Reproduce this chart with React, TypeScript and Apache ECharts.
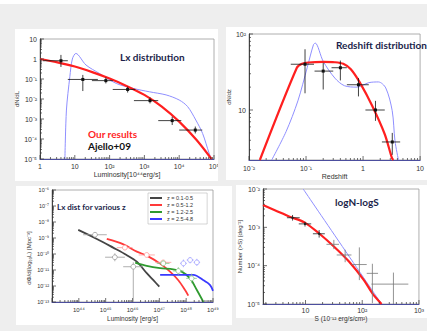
import React, { useEffect, useRef } from 'react';
import * as echarts from 'echarts';

// ---------- Panel 1: Lx distribution ----------
const lxPtX = [4, 17, 78, 330, 1450, 6300, 29000];
const lxPtY = [0.82, 0.095, 0.083, 0.03, 0.0083, 0.00083, 0.00028];
const lxErrX = [[1.2, 6.3], [6.3, 46], [31, 123], [123, 550], [500, 2500], [2500, 11500], [10000, 46000]];
const lxErrY = [[0.4, 1.6], [0.025, 0.16], [0.06, 0.12], [0.021, 0.042], [0.006, 0.012], [0.0005, 0.0013], [0.00019, 0.00042]];
const lxOurs = [[1, 1.0], [3.16, 0.68], [10, 0.42], [31.6, 0.22], [100, 0.105], [316, 0.044], [1000, 0.016], [3160, 0.0042], [10000, 0.00074], [31600, 0.000089], [85000, 0.00001]];
const lxAjello = [[5.2, 0.00001], [5.75, 0.0028], [7.2, 0.13], [8.5, 1.0], [10.7, 1.9], [21, 0.5], [51, 0.19], [155, 0.06], [470, 0.034], [1380, 0.023], [4200, 0.016], [10000, 0.0089], [17400, 0.0042], [30000, 0.00089], [47000, 0.00019], [72000, 0.00002], [85000, 0.00001]];

// ---------- Panel 2: Redshift distribution ----------
const zPtX = [0.096, 0.2, 0.4, 0.83, 1.65, 3.25];
const zPtY = [40, 32.5, 36, 21.5, 10, 3.8];
const zErrX = [[0.054, 0.138], [0.141, 0.3], [0.28, 0.52], [0.52, 1.26], [1.1, 2.4], [2.14, 4.47]];
const zErrY = [[16.6, 63], [18.6, 41.7], [24.5, 44.7], [15.1, 26.3], [7.2, 13.2], [2.57, 5.0]];
const zOurs = [[0.0155, 2.2], [0.069, 36], [0.085, 40.5], [0.11, 42.2], [0.2, 43], [0.32, 42.5], [0.45, 40.5], [0.61, 34.3], [0.88, 22.9], [1.45, 11.3], [2.4, 4.8], [3.2, 2.35], [3.4, 2.2]];
const zAjello = [[0.025, 2.2], [0.0447, 5.2], [0.072, 13.2], [0.105, 36.3], [0.135, 72.4], [0.145, 75.9], [0.2, 43.7], [0.32, 26.3], [0.47, 20.9], [0.78, 20], [1.26, 22.9], [1.86, 23.4], [2.5, 19.5], [3.24, 9.8], [3.63, 3.9], [4.17, 2.2]];

// ---------- Panel 3: Lx dist for various z ----------
const zBins = ['z = 0.1-0.5', 'z = 0.5-1.2', 'z = 1.2-2.5', 'z = 2.5-4.8'];
const lfBlack = [[9.5e43, 3.2e-9], [4.7e44, 8.7e-10], [1.9e45, 2.5e-10], [6.0e45, 8.7e-11], [1.45e46, 3.3e-11], [3.4e46, 6.3e-12], [6.0e46, 2.3e-12], [1.0e47, 9.1e-13]];
const lfRed = [[1.1e45, 8.7e-10], [4.6e45, 4.0e-10], [1.45e46, 1.4e-10], [3.4e46, 7.9e-11], [1.07e47, 2.5e-11], [2.5e47, 7.9e-12], [5.1e47, 2.3e-12], [9.1e47, 5.6e-13], [1.2e48, 2.5e-13]];
const lfGreen = [[1.26e46, 2.9e-11], [3.4e46, 1.8e-11], [1.07e47, 1.3e-11], [3.3e47, 1.1e-11], [6.8e47, 7.9e-12], [1.4e48, 3.0e-12], [2.5e48, 5.6e-13], [4.4e48, 1e-13]];
const lfBlue = [[1.07e47, 4.9e-12], [1.86e48, 4.9e-12], [4.4e48, 2.3e-12], [7.8e48, 1.15e-12], [1e49, 5e-13]];
const lfBlackPtX = [4e44, 2.2e45, 1.07e46];
const lfBlackPtY = [1.6e-9, 6.3e-11, 1.6e-11];
const lfBlackErrX = [[1.45e44, 1.1e45], [9.5e44, 5.2e45], [4.5e45, 2.5e46]];
const lfBlackErrY = [[1.1e-9, 2.3e-9], [3.5e-11, 1.1e-10], [1e-13, 3e-11]];
const lfRedPtX = [5.2e45, 3.4e46, 1.4e47];
const lfRedPtY = [2.5e-10, 8.7e-11, 3.0e-11];
const lfRedErrX = [[2.6e45, 1.0e46], [1.7e46, 6.8e46], [7e46, 2.8e47]];
const lfRedErrY = [[1.9e-10, 3.3e-10], [6.5e-11, 1.15e-10], [2.2e-11, 4.0e-11]];
const lfGreenPtX = [1.4e47, 5.1e47, 1.6e48];
const lfGreenPtY = [2.6e-11, 8.7e-12, 3.0e-12];
const lfGreenErrX = [[8e46, 2.4e47], [3.2e47, 8e47], [1.0e48, 2.5e48]];
const lfGreenErrY = [[1.8e-11, 3.8e-11], [5e-12, 1.5e-11], [1.5e-12, 6e-12]];
const lfBluePtX = [7.9e47, 1.4e48, 2.5e48];
const lfBluePtY = [2.6e-11, 4.2e-11, 3.0e-11];
const lfBlueErrX = [[6e47, 1.05e48], [1.05e48, 1.9e48], [1.9e48, 3.3e48]];
const lfBlueErrY = [[1.5e-11, 4.5e-11], [2.6e-11, 6.5e-11], [1.8e-11, 5e-11]];

// ---------- Panel 4: logN-logS ----------
const sPtX = [5.9, 9.8, 17.4, 31.6, 50, 89, 151, 355];
const sPtY = [1.78e-3, 1.23e-3, 6.8e-4, 3.6e-4, 1.9e-4, 1.07e-4, 6.3e-5, 3.3e-5];
const sErrX = [[4.7, 7.9], [7.6, 12.6], [13.5, 21.9], [23.4, 38.9], [35.5, 64.6], [64.6, 120], [120, 190], [145, 650]];
const sErrY = [[1.5e-3, 2.1e-3], [1.05e-3, 1.4e-3], [5.4e-4, 8.5e-4], [2.7e-4, 4.7e-4], [1.23e-4, 2.6e-4], [4.2e-5, 3.0e-4], [1.05e-5, 1.12e-4], [1e-5, 6.6e-5]];
const sOurs = [[1.78, 3.8e-3], [2.88, 2.8e-3], [5.25, 1.9e-3], [9.55, 1.35e-3], [17.4, 6.9e-4], [31.6, 3.16e-4], [58.9, 1.26e-4], [107, 4.2e-5], [151, 1.9e-5], [219, 1e-5]];
const sEuclid = [[9.1, 1e-2], [219, 1e-5]];

const SUP: Record<string, string> = { '0': '⁰', '1': '¹', '2': '²', '3': '³', '4': '⁴', '5': '⁵', '6': '⁶', '7': '⁷', '8': '⁸', '9': '⁹', '-': '⁻' };
const sup = (n: number) => String(n).split('').map((c) => SUP[c] || c).join('');

const makeFmt = (hide: number[] = []) => (v: number) => {
  const l = Math.log10(v);
  const e = Math.round(l);
  if (Math.abs(l - e) > 1e-6) return '';
  if (hide.includes(e)) return '';
  if (e === 0) return '1';
  if (e === 1) return '10';
  return '10' + sup(e);
};

const TITLE_FONT = 'Lato, "Open Sans", sans-serif';
const TICK_FONT = '"Liberation Sans", Arial, sans-serif';
const RED = '#ff1f1f';
const LBLUE = '#8f8fff';

function xAx(gi: number, min: number, max: number, o: any) {
  return {
    type: 'log', logBase: 10, gridIndex: gi, min, max,
    axisLine: { show: true, onZero: false, lineStyle: { color: '#4c4e9e', width: 1.2 } },
    axisTick: { show: false }, splitLine: { show: false },
    axisLabel: { fontSize: o.fs || 7, color: '#333', margin: o.margin ?? 4, fontFamily: TICK_FONT, formatter: makeFmt(o.hide), showMinLabel: true, showMaxLabel: true },
    name: o.name, nameLocation: 'middle', nameGap: o.nameGap,
    nameTextStyle: { fontSize: o.nfs || 7, color: '#333', fontFamily: TICK_FONT },
  };
}
function yAx(gi: number, min: number, max: number, o: any) {
  return {
    type: 'log', logBase: 10, gridIndex: gi, min, max,
    axisLine: { show: true, onZero: false, lineStyle: { color: '#444', width: 1 } },
    axisTick: { show: false }, splitLine: { show: false },
    axisLabel: { fontSize: o.fs || 7, color: '#333', margin: o.margin ?? 3, fontFamily: TICK_FONT, formatter: makeFmt(o.hide), showMinLabel: true, showMaxLabel: true },
    name: o.name, nameLocation: 'middle', nameGap: o.nameGap, nameRotate: 90,
    nameTextStyle: { fontSize: o.nfs || 6, color: '#333', fontFamily: TICK_FONT },
  };
}

function tickSeries(gi: number, axis: 'x' | 'y', min: number, max: number, other: number, len: number) {
  const data: number[][] = [];
  const d0 = Math.floor(Math.log10(min));
  const d1 = Math.ceil(Math.log10(max));
  for (let d = d0; d <= d1; d++) {
    for (let m = 1; m <= 9; m++) {
      const v = m * Math.pow(10, d);
      if (v >= min * 0.999 && v <= max * 1.001) data.push(axis === 'x' ? [v, other, m === 1 ? 1 : 0] : [other, v, m === 1 ? 1 : 0]);
    }
  }
  return {
    type: 'custom', xAxisIndex: gi, yAxisIndex: gi, clip: false, silent: true, z: 4,
    encode: { x: 0, y: 1 }, data,
    renderItem: (_p: any, api: any) => {
      const c = api.coord([api.value(0), api.value(1)]);
      const L = api.value(2) ? len : len * 0.5;
      return axis === 'x'
        ? { type: 'line', shape: { x1: c[0], y1: c[1], x2: c[0], y2: c[1] - L }, style: { stroke: '#333', lineWidth: 0.7 } }
        : { type: 'line', shape: { x1: c[0], y1: c[1], x2: c[0] + L, y2: c[1] }, style: { stroke: '#333', lineWidth: 0.7 } };
    },
  };
}

function errSeries(gi: number, xs: number[], ys: number[], ex: number[][], ey: number[][], color: string, marker: string, lw = 0.8) {
  return {
    type: 'custom', xAxisIndex: gi, yAxisIndex: gi, clip: false, silent: true, z: 6,
    encode: { x: 0, y: 1 },
    data: xs.map((x, i) => [x, ys[i], ex[i][0], ex[i][1], ey[i][0], ey[i][1]]),
    renderItem: (_p: any, api: any) => {
      const x = api.value(0), y = api.value(1);
      const c = api.coord([x, y]);
      const l = api.coord([api.value(2), y]);
      const r = api.coord([api.value(3), y]);
      const b = api.coord([x, api.value(4)]);
      const t = api.coord([x, api.value(5)]);
      const children: any[] = [
        { type: 'line', shape: { x1: l[0], y1: l[1], x2: r[0], y2: r[1] }, style: { stroke: color, lineWidth: lw } },
        { type: 'line', shape: { x1: b[0], y1: b[1], x2: t[0], y2: t[1] }, style: { stroke: color, lineWidth: lw } },
      ];
      if (marker === 'square') children.push({ type: 'rect', shape: { x: c[0] - 1.5, y: c[1] - 1.5, width: 3, height: 3 }, style: { fill: color } });
      if (marker === 'dot') children.push({ type: 'circle', shape: { cx: c[0], cy: c[1], r: 1.2 }, style: { fill: color } });
      if (marker === 'circle') children.push({ type: 'circle', shape: { cx: c[0], cy: c[1], r: 2.4 }, style: { fill: '#fff', stroke: color, lineWidth: 0.8 } });
      return { type: 'group', children };
    },
  };
}

function curve(gi: number, data: number[][], color: string, width: number, name?: string) {
  return {
    type: 'line', name, xAxisIndex: gi, yAxisIndex: gi, data, showSymbol: false, symbol: 'none',
    smooth: 0.3, lineStyle: { color, width }, itemStyle: { color }, z: 3, silent: true,
  };
}

const bg = (x: number, y: number, w: number, h: number, fill: string, z = -10) => ({ type: 'rect', z, silent: true, shape: { x, y, width: w, height: h }, style: { fill } });
const title = (x: number, y: number, text: string, color = '#1b1f4b', fs = 10) => ({
  type: 'text', z: 20, x, y, silent: true,
  style: { text, fill: color, fontSize: fs, fontWeight: 'bold', fontFamily: TITLE_FONT, textVerticalAlign: 'middle' },
});

export default function App() {
  const ref = useRef<HTMLDivElement>(null);
  useEffect(() => {
    if (!ref.current) return;
    const chart = echarts.init(ref.current, null, { renderer: 'svg' });
    const G = [
      { left: 40, top: 39, width: 174, height: 120 },
      { left: 249, top: 34, width: 185, height: 126 },
      { left: 52, top: 190, width: 161, height: 112 },
      { left: 263, top: 189, width: 176, height: 115 },
    ];
    const ranges = [
      { x: [1, 1e5], y: [1e-5, 10] },
      { x: [0.01, 10], y: [2.2, 100] },
      { x: [1e43, 1e49], y: [1e-13, 1e-6] },
      { x: [1.78, 1000], y: [1e-5, 1e-2] },
    ];
    const option: any = {
      animation: false,
      backgroundColor: '#eeeeee',
      grid: G.map((g) => ({ ...g, show: true, borderColor: '#9a9a9a', borderWidth: 0.8, backgroundColor: 'transparent', containLabel: false })),
      xAxis: [
        xAx(0, 1, 1e5, { name: 'Luminosity[10⁴⁴erg/s]', nameGap: 10, margin: 4 }),
        xAx(1, 0.01, 10, { name: 'Redshift', nameGap: 11, margin: 5 }),
        xAx(2, 1e43, 1e49, { name: 'Luminosity [erg/s]', nameGap: 13, fs: 6, nfs: 6.5, hide: [43], margin: 5 }),
        xAx(3, 1.78, 1000, { name: 'S (10⁻¹² erg/s/cm²)', nameGap: 9, nfs: 6.5, margin: 3 }),
      ],
      yAxis: [
        yAx(0, 1e-5, 10, { name: 'dN/dL', nameGap: 16 }),
        yAx(1, 2.2, 100, { name: 'dN/dz', nameGap: 13 }),
        yAx(2, 1e-13, 1e-6, { fs: 5.5 }),
        yAx(3, 1e-5, 1e-2, { name: 'Number (>S) [deg⁻²]', nameGap: 12 }),
      ],
      legend: {
        show: true, orient: 'vertical', left: 148, top: 193, data: zBins,
        icon: 'rect', itemWidth: 12, itemHeight: 2, itemGap: 1,
        padding: [2, 14, 2, 2], backgroundColor: '#fff', borderColor: '#aaa', borderWidth: 0.5,
        textStyle: { fontSize: 5.5, color: '#333', fontFamily: TICK_FONT, padding: [0, 0, 0, 0] },
        selectedMode: false,
      },
      graphic: {
        elements: [
          bg(0, 0, 427, 4, '#ffffff', -20),
          bg(15, 29, 203, 152, '#ffffff'),
          bg(226, 27, 201, 153, '#ffffff'),
          bg(16, 186, 216, 139, '#ffffff'),
          bg(236, 185, 191, 133, '#ffffff'),
          bg(218, 150, 8, 30, '#eeeeee', 50),
          title(120, 57, 'Lx distribution'),
          title(88, 134, 'Our results', RED),
          title(88, 146, 'Ajello+09', '#111111'),
          title(336, 45, 'Redshift distribution'),
          title(57, 207, 'Lx dist for various z', '#1b1f4b', 8),
          title(335, 202, 'logN-logS'),
          {
            type: 'text', z: 20, x: 29, y: 258, rotation: Math.PI / 2, silent: true,
            style: { text: 'dΦ/d(log₁₀L) [Mpc⁻³]', fontSize: 6, fill: '#333', fontFamily: TICK_FONT, textAlign: 'center', textVerticalAlign: 'middle' },
          },
        ],
      },
      series: [
        ...ranges.flatMap((r, gi) => [
          tickSeries(gi, 'x', r.x[0], r.x[1], r.y[0], 4),
          tickSeries(gi, 'y', r.y[0], r.y[1], r.x[0], 4),
        ]),
        curve(0, lxAjello, LBLUE, 1),
        curve(0, lxOurs, RED, 2.2),
        errSeries(0, lxPtX, lxPtY, lxErrX, lxErrY, '#111', 'square'),
        curve(1, zAjello, LBLUE, 1),
        curve(1, zOurs, RED, 2.2),
        errSeries(1, zPtX, zPtY, zErrX, zErrY, '#111', 'square'),
        errSeries(2, lfBlackPtX, lfBlackPtY, lfBlackErrX, lfBlackErrY, '#9a9a9a', 'circle'),
        errSeries(2, lfRedPtX, lfRedPtY, lfRedErrX, lfRedErrY, '#ff9a9a', 'circle'),
        errSeries(2, lfGreenPtX, lfGreenPtY, lfGreenErrX, lfGreenErrY, '#86c486', 'circle'),
        errSeries(2, lfBluePtX, lfBluePtY, lfBlueErrX, lfBlueErrY, '#a0a0ff', 'circle'),
        curve(2, lfBlack, '#444444', 1.8, zBins[0]),
        curve(2, lfRed, '#ff3a3a', 1.8, zBins[1]),
        curve(2, lfGreen, '#2f9a2f', 1.8, zBins[2]),
        curve(2, lfBlue, '#3a3aff', 1.8, zBins[3]),
        errSeries(3, sPtX.slice(3), sPtY.slice(3), sErrX.slice(3), sErrY.slice(3), '#777', 'none'),
        errSeries(3, sPtX.slice(0, 3), sPtY.slice(0, 3), sErrX.slice(0, 3), sErrY.slice(0, 3), '#222', 'dot'),
        curve(3, sEuclid, LBLUE, 1),
        curve(3, sOurs, RED, 2.2),
      ],
    };
    chart.setOption(option);
    return () => chart.dispose();
  }, []);
  return <div ref={ref} style={{ position: 'fixed', left: 0, top: 0, width: 427, height: 331 }} />;
}
